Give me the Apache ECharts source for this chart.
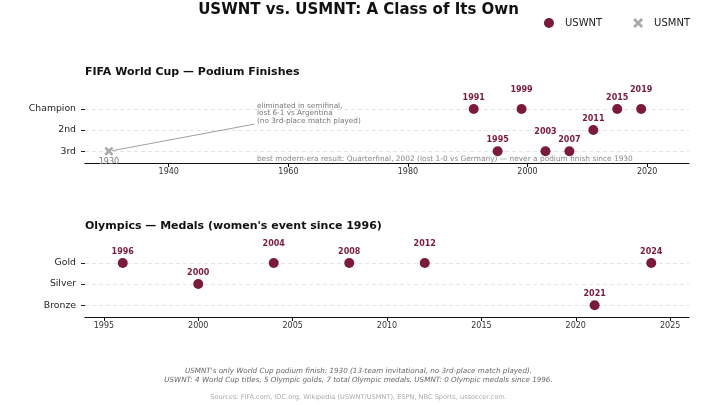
<!DOCTYPE html>
<head>
    <meta charset="utf-8">
    <title>USWNT vs USMNT</title>
    <style>
        html, body { margin:0; padding:0; background:#fff; }
    </style>
</head>
<body>
    <div id="chart" style="width:717px;height:405px"></div>

    <script src="https://cdn.jsdelivr.net/npm/echarts@6/dist/echarts.min.js"></script>
    <script type="text/javascript">

// data
var wcLevels = ['3rd', '2nd', 'Champion'];
var wcYears = [1991, 1995, 1999, 2003, 2007, 2011, 2015, 2019];
var wcPlace = ['Champion', '3rd', 'Champion', '3rd', '3rd', '2nd', 'Champion', 'Champion'];

var menYears = [1930];
var menPlace = ['3rd'];

var olyLevels = ['Bronze', 'Silver', 'Gold'];
var olyYears = [1996, 2000, 2004, 2008, 2012, 2021, 2024];
var olyMedal = ['Gold', 'Silver', 'Gold', 'Gold', 'Gold', 'Bronze', 'Gold'];

var wcTicks = [1940, 1960, 1980, 2000, 2020];
var olyTicks = [1995, 2000, 2005, 2010, 2015, 2020, 2025];

var RED = '#7b1b3b';
var GREY = '#aaaaaa';
var FONT = 'DejaVu Sans';
var xPath = 'path://M2,0 L5,3 L8,0 L10,2 L7,5 L10,8 L8,10 L5,7 L2,10 L0,8 L3,5 L0,2 Z';

// labels alternate low / high inside each row
function buildPoints(years, places, levels) {
    var count = {};
    return years.map(function (y, i) {
        var p = places[i];
        count[p] = (count[p] || 0) + 1;
        var high = count[p] % 2 === 0;
        return {
            value: [y, levels.indexOf(p) + 1],
            label: { distance: high ? 10 : 2 }
        };
    });
}

// dashed guide lines, kept under the dots (markLine defaults to z 5)
function gridSeries(idx) {
    return {
        name: 'guides' + idx, type: 'scatter', xAxisIndex: idx, yAxisIndex: idx,
        data: [], z: 1, silent: true,
        markLine: {
            z: 1,
            silent: true,
            symbol: ['none', 'none'],
            label: { show: false },
            lineStyle: { color: '#dddddd', type: [4, 3], width: 0.8 },
            data: [{ yAxis: 1 }, { yAxis: 2 }, { yAxis: 3 }]
        }
    };
}

function yAxisFor(idx, levels) {
    return {
        type: 'value', gridIndex: idx, min: 0.44, max: 3.47,
        axisLine: { show: false },
        axisTick: { show: true, length: 4, customValues: [1, 2, 3], lineStyle: { color: '#222' } },
        axisLabel: {
            customValues: [1, 2, 3], fontSize: 9.3, color: '#222', fontFamily: FONT, margin: 9,
            formatter: function (v) { return levels[Math.round(v) - 1]; }
        },
        splitLine: { show: false }
    };
}

function xAxisFor(idx, min, max, ticks) {
    return {
        type: 'value', gridIndex: idx, min: min, max: max,
        axisLine: { lineStyle: { color: '#111', width: 1.2 } },
        axisTick: { length: 4, customValues: ticks, lineStyle: { color: '#111' } },
        axisLabel: { customValues: ticks, fontSize: 8, color: '#333', fontFamily: FONT, margin: 5,
                     formatter: function (v) { return String(v); } },
        splitLine: { show: false }
    };
}

var yearLabel = {
    show: true, position: 'top', fontSize: 8, fontWeight: 'bold', color: RED, fontFamily: FONT,
    formatter: function (p) { return p.value[0]; }
};

var myChart = echarts.init(document.getElementById('chart'));

myChart.setOption({
    animation: false,
    textStyle: { fontFamily: FONT },
    title: [
        { text: 'USWNT vs. USMNT: A Class of Its Own', left: 'center', top: -2,
          textStyle: { fontSize: 15, fontWeight: 'bold', color: '#111', fontFamily: FONT } },
        { text: 'FIFA World Cup — Podium Finishes', left: 80, top: 62,
          textStyle: { fontSize: 11, fontWeight: 'bold', color: '#111', fontFamily: FONT } },
        { text: "Olympics — Medals (women's event since 1996)", left: 80, top: 216,
          textStyle: { fontSize: 11, fontWeight: 'bold', color: '#111', fontFamily: FONT } }
    ],
    legend: {
        right: 22, top: 13, itemWidth: 10, itemHeight: 10, itemGap: 31,
        textStyle: { fontSize: 10, color: '#222', fontFamily: FONT, padding: [0, 0, 0, 6] },
        data: [
            { name: 'USWNT', icon: 'circle', itemStyle: { color: RED, opacity: 1 } },
            { name: 'USMNT', icon: xPath, itemStyle: { color: GREY, opacity: 1 } }
        ]
    },
    grid: [
        { left: 85, right: 28, top: 99, height: 64 },
        { left: 85, right: 28, top: 253, height: 64 }
    ],
    xAxis: [
        xAxisFor(0, 1926, 2027, wcTicks),
        xAxisFor(1, 1994, 2026, olyTicks)
    ],
    yAxis: [
        yAxisFor(0, wcLevels),
        yAxisFor(1, olyLevels)
    ],
    graphic: [
        { type: 'text', left: 'center', top: 368,
          style: { text: "USMNT's only World Cup podium finish: 1930 (13-team invitational, no 3rd-place match played).",
                   fontSize: 7.2, fontStyle: 'italic', fill: '#666', fontFamily: FONT } },
        { type: 'text', left: 'center', top: 377,
          style: { text: 'USWNT: 4 World Cup titles, 5 Olympic golds, 7 total Olympic medals. USMNT: 0 Olympic medals since 1996.',
                   fontSize: 7.2, fontStyle: 'italic', fill: '#666', fontFamily: FONT } },
        { type: 'text', left: 'center', top: 394,
          style: { text: 'Sources: FIFA.com, IOC.org, Wikipedia (USWNT/USMNT), ESPN, NBC Sports, ussoccer.com.',
                   fontSize: 6.6, fill: '#aaa', fontFamily: FONT } }
    ],
    series: [
        gridSeries(0),
        gridSeries(1),
        {
            name: 'USWNT', type: 'scatter', xAxisIndex: 0, yAxisIndex: 0,
            symbolSize: 10, itemStyle: { color: RED, opacity: 1 }, z: 3,
            label: yearLabel,
            data: buildPoints(wcYears, wcPlace, wcLevels)
        },
        {
            name: 'USMNT', type: 'scatter', xAxisIndex: 0, yAxisIndex: 0,
            symbol: xPath, symbolSize: 9, itemStyle: { color: GREY, opacity: 1 }, z: 3,
            label: { show: true, position: 'bottom', distance: 0, fontSize: 8, color: '#777', fontFamily: FONT,
                     formatter: function (p) { return p.value[0]; } },
            data: buildPoints(menYears, menPlace, wcLevels),
            markLine: {
                z: 2,
                silent: true, symbol: ['none', 'none'], label: { show: false },
                lineStyle: { color: '#888', width: 0.8, type: 'solid' },
                data: [[{ coord: [1930.5, 1.02] }, { coord: [1954.3, 2.28] }]]
            },
            markPoint: {
                silent: true, symbol: 'circle', symbolSize: 0,
                data: [
                    { coord: [1954.75, 3.34],
                      label: { show: true, position: [0, 0], align: 'left', verticalAlign: 'top',
                               fontSize: 7.3, lineHeight: 7.8, color: '#777', fontFamily: FONT,
                               formatter: 'eliminated in semifinal,\nlost 6-1 vs Argentina\n(no 3rd-place match played)' } },
                    { coord: [1954.75, 0.64],
                      label: { show: true, position: [0, 0], align: 'left', verticalAlign: 'middle',
                               fontSize: 7.4, color: '#888', fontFamily: FONT,
                               formatter: 'best modern-era result: Quarterfinal, 2002 (lost 1-0 vs Germany) — never a podium finish since 1930' } }
                ]
            }
        },
        {
            name: 'USWNT', type: 'scatter', xAxisIndex: 1, yAxisIndex: 1,
            symbolSize: 10, itemStyle: { color: RED, opacity: 1 }, z: 3,
            label: yearLabel,
            data: buildPoints(olyYears, olyMedal, olyLevels)
        }
    ]
});

    </script>
</body>
